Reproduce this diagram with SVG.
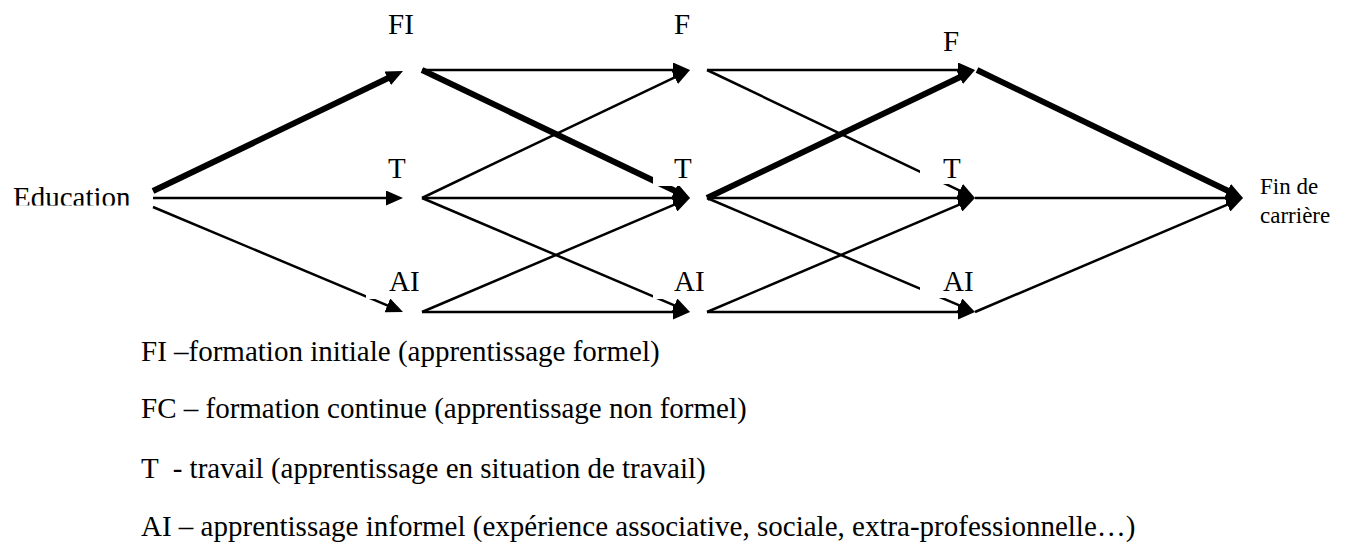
<svg xmlns="http://www.w3.org/2000/svg" width="1353" height="560" viewBox="0 0 1353 560">
<defs>
<marker id="ah" markerUnits="userSpaceOnUse" markerWidth="17" markerHeight="15" viewBox="0 0 17 15" refX="7" refY="7.5" orient="auto"><path d="M0,0 L17,7.5 L0,15 z" fill="#000"/></marker>
<clipPath id="edclip"><rect x="0" y="150" width="150" height="55.5"/></clipPath>
</defs>
<style>
.c{stroke:#000;stroke-width:2.5;fill:none;marker-end:url(#ah)}
.k{stroke-width:6}
.t{font-family:"Liberation Serif","Times New Roman",serif;font-size:29px;fill:#000}
.s{font-size:23px}
.box{fill:#fff}
</style>
<rect width="1353" height="560" fill="#fff"/>
<g id="connectors">
<line class="c k" x1="153" y1="191" x2="394" y2="75.3"/>
<line class="c" x1="153" y1="198" x2="393" y2="198"/>
<line class="c" x1="153" y1="207" x2="393.8" y2="308.1"/>
<line class="c" x1="422" y1="70" x2="680" y2="70"/>
<line class="c k" x1="422" y1="70" x2="681" y2="193.7"/>
<line class="c" x1="422" y1="198" x2="681" y2="74.3"/>
<line class="c" x1="422" y1="198" x2="680" y2="198"/>
<line class="c" x1="422" y1="198" x2="680.8" y2="308.1"/>
<line class="c" x1="422" y1="312" x2="680.8" y2="201.9"/>
<line class="c" x1="422" y1="312" x2="680" y2="312"/>
<line class="c" x1="707" y1="70" x2="965" y2="70"/>
<line class="c" x1="707" y1="70" x2="966" y2="193.7"/>
<line class="c k" x1="707" y1="198" x2="966" y2="74.3"/>
<line class="c" x1="707" y1="198" x2="965" y2="198"/>
<line class="c" x1="707" y1="198" x2="965.8" y2="308.1"/>
<line class="c" x1="707" y1="312" x2="965.8" y2="201.9"/>
<line class="c" x1="707" y1="312" x2="965" y2="312"/>
<line class="c k" x1="977" y1="70" x2="1234" y2="193.7"/>
<line class="c" x1="975" y1="198" x2="1233" y2="198"/>
<line class="c" x1="975" y1="312" x2="1233.8" y2="201.9"/>
</g>
<g id="education"><text class="t" x="13" y="207" clip-path="url(#edclip)">Education</text></g>
<g id="fi1"><rect class="box" x="366" y="5" width="50" height="38"/><text class="t" x="388" y="34">FI</text></g>
<g id="t1"><rect class="box" x="366" y="146" width="50" height="40"/><text class="t" x="388" y="178">T</text></g>
<g id="ai1"><rect class="box" x="366" y="259" width="50" height="40"/><text class="t" x="389" y="291">AI</text></g>
<g id="f2"><rect class="box" x="653" y="5" width="50" height="38"/><text class="t" x="674" y="34">F</text></g>
<g id="t2"><rect class="box" x="653" y="146" width="50" height="40"/><text class="t" x="674" y="178">T</text></g>
<g id="ai2"><rect class="box" x="653" y="259" width="50" height="40"/><text class="t" x="674" y="291">AI</text></g>
<g id="f3"><rect class="box" x="920" y="22" width="50" height="38"/><text class="t" x="943" y="51">F</text></g>
<g id="t3"><rect class="box" x="920" y="146" width="50" height="38"/><text class="t" x="943" y="178">T</text></g>
<g id="ai3"><rect class="box" x="920" y="259" width="50" height="39"/><text class="t" x="943" y="291">AI</text></g>
<g id="fin"><text class="t s" x="1260" y="194">Fin de</text><text class="t s" x="1260" y="223">carrière</text></g>
<g id="legend">
<text class="t" x="141" y="361">FI –formation initiale (apprentissage formel)</text>
<text class="t" x="141" y="418">FC – formation continue (apprentissage non formel)</text>
<text class="t" x="141" y="478" xml:space="preserve">T  - travail (apprentissage en situation de travail)</text>
<text class="t" x="141" y="536">AI – apprentissage informel (expérience associative, sociale, extra-professionnelle…)</text>
</g>
</svg>
